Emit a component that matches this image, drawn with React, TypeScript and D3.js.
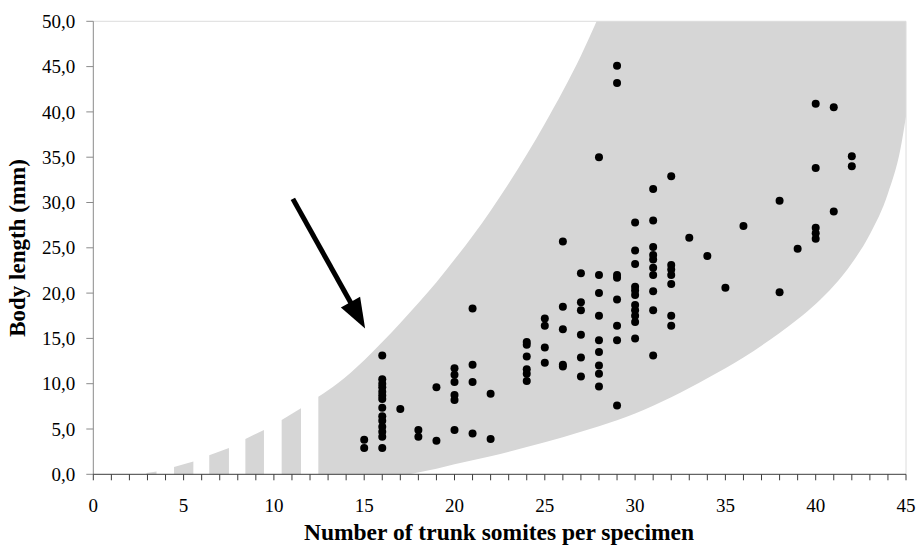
import React from "react";
import * as d3 from "d3";

// ---- data ----
const xTicks = [0, 5, 10, 15, 20, 25, 30, 35, 40, 45];
const yTicks = [0, 5, 10, 15, 20, 25, 30, 35, 40, 45, 50];

// specimens: somite count and body length (mm)
const somites = [
  15, 15,
  16, 16, 16, 16, 16, 16, 16, 16, 16, 16, 16, 16, 16, 16,
  17,
  18, 18,
  19, 19,
  20, 20, 20, 20, 20, 20,
  21, 21, 21, 21,
  22, 22,
  24, 24, 24, 24, 24, 24,
  25, 25, 25, 25,
  26, 26, 26, 26, 26,
  27, 27, 27, 27, 27, 27,
  28, 28, 28, 28, 28, 28, 28, 28, 28,
  29, 29, 29, 29, 29, 29, 29, 29,
  30, 30, 30, 30, 30, 30, 30, 30, 30, 30, 30,
  31, 31, 31, 31, 31, 31, 31, 31, 31, 31,
  32, 32, 32, 32, 32, 32, 32,
  33, 34, 35, 36,
  38, 38,
  39,
  40, 40, 40, 40, 40,
  41, 41,
  42, 42,
];
const lengths = [
  3.8, 2.9,
  13.1, 10.5, 10.0, 9.6, 9.1, 8.7, 8.3, 7.35, 6.4, 5.9, 5.25, 4.7, 4.15, 2.9,
  7.2,
  4.9, 4.15,
  9.6, 3.7,
  11.7, 11.0, 10.2, 8.75, 8.2, 4.9,
  18.3, 12.1, 10.2, 4.5,
  8.9, 3.9,
  14.6, 14.3, 13.0, 11.6, 11.1, 10.3,
  17.2, 16.4, 14.0, 12.3,
  25.7, 18.5, 16.0, 12.1, 11.9,
  22.2, 19.0, 18.1, 15.4, 12.9, 10.8,
  35.0, 22.0, 20.0, 17.5, 14.8, 13.5, 12.0, 11.1, 9.7,
  45.1, 43.2, 22.0, 21.7, 19.3, 16.4, 14.8, 7.6,
  27.8, 24.7, 23.2, 20.7, 20.3, 19.8, 18.7, 18.1, 17.5, 16.8, 15.0,
  31.5, 28.0, 25.1, 24.2, 23.7, 22.8, 22.0, 20.2, 18.1, 13.1,
  32.9, 23.1, 22.6, 22.0, 21.0, 17.5, 16.4,
  26.1, 24.1, 20.6, 27.4,
  30.2, 20.1,
  24.9,
  40.9, 33.8, 27.2, 26.6, 26.0,
  40.5, 29.0,
  35.1, 34.0,
];

// upper limit of the grey envelope
const upperX = [12.46, 13.5, 15, 16, 17, 18, 19, 20, 21, 22, 23, 24, 25, 26, 27, 27.87];
const upperY = [8.57, 10.0, 12.6, 14.6, 16.7, 18.9, 21.2, 23.7, 26.3, 29.1, 32.1, 35.3, 38.7, 42.3, 46.2, 50];

// lower limit of the grey envelope
const lowerX = [17.5, 19, 20, 22, 24, 26, 28, 30, 32, 34, 36, 38, 39, 40, 41, 42, 43, 44, 44.7, 45];
const lowerY = [0, 0.6, 1.1, 2.0, 3.0, 4.1, 5.3, 6.7, 8.5, 10.6, 12.9, 15.6, 17.1, 18.8, 20.8, 23.3, 26.5, 31.0, 36.0, 39.5];

// separate grey strips at low somite numbers: [x start, x end, top at start, top at end]
const stripX0 = [2.95, 4.47, 6.42, 8.42, 10.43];
const stripX1 = [3.5, 5.54, 7.51, 9.45, 11.5];
const stripY0 = [0.15, 0.8, 2.1, 3.9, 6.0];
const stripY1 = [0.3, 1.4, 2.9, 4.9, 7.3];

// arrow annotation (data coordinates)
const arrowFrom = [11.05, 30.4];
const arrowTo = [15.05, 16.1];

export default function App() {
  const W = 919, H = 546;
  const x = d3.scaleLinear().domain([0, 45]).range([93.3, 906]);
  const y = d3.scaleLinear().domain([0, 50]).range([474.3, 21.3]);

  const smooth = d3
    .line<[number, number]>()
    .x((d) => x(d[0]))
    .y((d) => y(d[1]))
    .curve(d3.curveMonotoneX);
  const straight = d3.line<[number, number]>().x((d) => x(d[0])).y((d) => y(d[1]));

  const upperPts = upperX.map((v, i) => [v, upperY[i]] as [number, number]);
  const lowerRev = lowerX.map((v, i) => [v, lowerY[i]] as [number, number]).reverse();
  const bandPath =
    `M${x(upperX[0])},${y(0)}` +
    (smooth(upperPts) as string).replace(/^M/, "L") +
    `L${x(45)},${y(50)}` +
    (smooth(lowerRev) as string).replace(/^M/, "L") +
    "Z";

  const strips = stripX0.map((x0, i) =>
    straight([
      [x0, 0],
      [x0, stripY0[i]],
      [stripX1[i], stripY1[i]],
      [stripX1[i], 0],
    ]) + "Z"
  );

  const minorTicks = d3.range(0, 46, 1);

  // arrow geometry
  const ax0 = x(arrowFrom[0]), ay0 = y(arrowFrom[1]);
  const ax1 = x(arrowTo[0]), ay1 = y(arrowTo[1]);
  const dx = ax1 - ax0, dy = ay1 - ay0;
  const len = Math.hypot(dx, dy);
  const ux = dx / len, uy = dy / len;
  const headL = 30, headW = 11;
  const bx = ax1 - ux * headL, by = ay1 - uy * headL;
  const head = `M${ax1},${ay1} L${bx - uy * headW},${by + ux * headW} L${bx + uy * headW},${by - ux * headW} Z`;

  const fmt = (v: number) => v.toFixed(1).replace(".", ",");
  const serif = "'Liberation Serif', 'Times New Roman', serif";

  return (
    <svg
      width={W}
      height={H}
      style={{ position: "absolute", left: 0, top: 0, background: "#fff" }}
      fontFamily={serif}
    >
      <path d={bandPath} fill="#d6d6d6" />
      {strips.map((d, i) => (
        <path key={i} d={d} fill="#d6d6d6" />
      ))}

      {/* plot frame */}
      <line x1={x(0)} x2={x(45)} y1={y(50)} y2={y(50)} stroke="#dcdcdc" strokeWidth={1} />
      <line x1={x(45)} x2={x(45)} y1={y(50)} y2={y(0)} stroke="#dcdcdc" strokeWidth={1} />

      {/* y axis */}
      <line x1={x(0)} x2={x(0)} y1={y(0)} y2={y(50)} stroke="#8a8a8a" strokeWidth={1} />
      {yTicks.map((t) => (
        <g key={t}>
          <line x1={x(0) - 7} x2={x(0)} y1={y(t)} y2={y(t)} stroke="#8a8a8a" />
          <text x={x(0) - 18} y={y(t)} dy="0.35em" textAnchor="end" fontSize={19} fill="#000">
            {fmt(t)}
          </text>
        </g>
      ))}

      {/* x axis */}
      <line x1={x(0)} x2={x(45)} y1={y(0)} y2={y(0)} stroke="#3c3c3c" strokeWidth={1} />
      {minorTicks.map((t) => (
        <line key={t} x1={x(t)} x2={x(t)} y1={y(0)} y2={y(0) + 6} stroke="#3c3c3c" />
      ))}
      {xTicks.map((t) => (
        <text key={t} x={x(t)} y={y(0) + 38} textAnchor="middle" fontSize={19} fill="#000">
          {t}
        </text>
      ))}

      {/* points */}
      {somites.map((s, i) => (
        <circle key={i} cx={x(s)} cy={y(lengths[i])} r={4} fill="#000" />
      ))}

      {/* arrow */}
      <line x1={ax0} y1={ay0} x2={bx + ux * 2} y2={by + uy * 2} stroke="#000" strokeWidth={5} />
      <path d={head} fill="#000" />

      {/* titles */}
      <text x={499} y={540} textAnchor="middle" fontSize={23.5} fontWeight="bold">
        Number of trunk somites per specimen
      </text>
      <text
        transform={`translate(25, ${248}) rotate(-90)`}
        textAnchor="middle"
        fontSize={23}
        fontWeight="bold"
      >
        Body length (mm)
      </text>
    </svg>
  );
}
